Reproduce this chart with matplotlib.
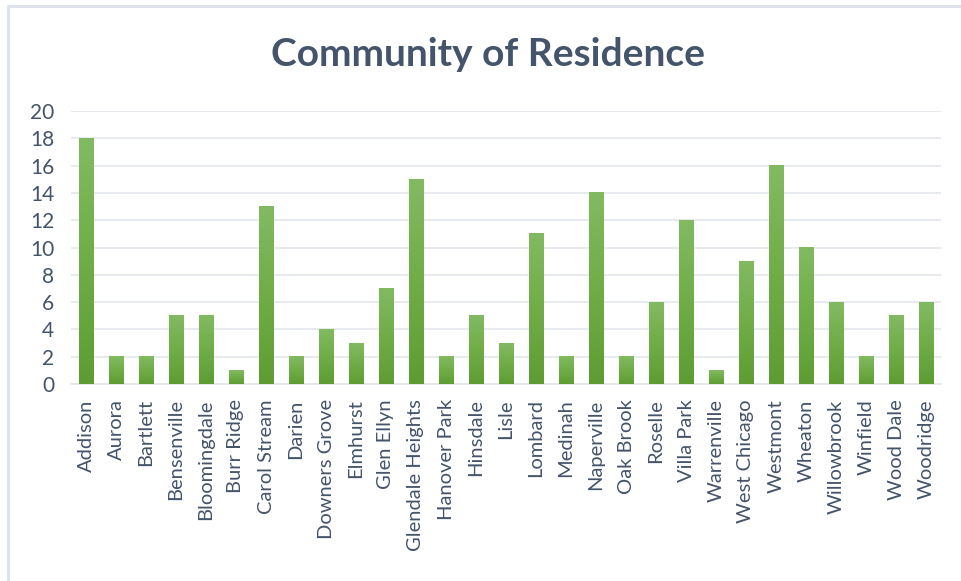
import numpy as np
import matplotlib
matplotlib.use("Agg")
import matplotlib.pyplot as plt
from matplotlib.colors import LinearSegmentedColormap
from matplotlib.patches import Rectangle

# ---
# Data

communities = [
    "Addison", "Aurora", "Bartlett", "Bensenville", "Bloomingdale", "Burr Ridge",
    "Carol Stream", "Darien", "Downers Grove", "Elmhurst", "Glen Ellyn",
    "Glendale Heights", "Hanover Park", "Hinsdale", "Lisle", "Lombard", "Medinah",
    "Naperville", "Oak Brook", "Roselle", "Villa Park", "Warrenville",
    "West Chicago", "Westmont", "Wheaton", "Willowbrook", "Winfield",
    "Wood Dale", "Woodridge",
]
counts = [18, 2, 2, 5, 5, 1, 13, 2, 4, 3, 7, 15, 2, 5, 3, 11, 2, 14, 2, 6,
          12, 1, 9, 16, 10, 6, 2, 5, 6]
y_ticks = list(range(0, 21, 2))

# ---

plt.rcParams["font.family"] = ["Lato", "DejaVu Sans"]
TEXT = "#44546A"
GRID = "#E3E6EC"

fig = plt.figure(figsize=(9.61, 5.81), dpi=100)
ax = fig.add_axes([71 / 961, 1 - 384 / 581, (941 - 71) / 961, (384 - 111) / 581])

# light frame around the chart area (only top/left visible in the source)
fig.patches.append(Rectangle((8 / 961, -0.01), 1.0, 1 - 6 / 581 + 0.01,
                             transform=fig.transFigure, fill=False,
                             edgecolor="#DDE1EA", linewidth=2.0))

green = LinearSegmentedColormap.from_list("g", ["#5E9C33", "#70AD47", "#82BA62"])
grad = np.linspace(0, 1, 256).reshape(-1, 1)

x = np.arange(len(communities))
width = 0.47
bars = ax.bar(x, counts, width=width, color="none", edgecolor="none", zorder=3)
for b in bars:
    x0, h = b.get_x(), b.get_height()
    ax.imshow(grad, extent=(x0, x0 + b.get_width(), 0, h), origin="lower",
              cmap=green, aspect="auto", zorder=3, interpolation="bicubic")

ax.set_xlim(-0.5, len(communities) - 0.5)
ax.set_ylim(0, 20)
ax.set_yticks(y_ticks)
ax.set_xticks(x)
ax.set_xticklabels(communities, rotation=90, fontsize=14.5, color=TEXT)
ax.tick_params(axis="y", labelsize=15, colors=TEXT, length=0, pad=12)
ax.tick_params(axis="x", length=0, pad=11)
ax.grid(axis="y", color=GRID, linewidth=1.2, zorder=0)
ax.set_axisbelow(True)
for side in ["top", "right", "left"]:
    ax.spines[side].set_visible(False)
ax.spines["bottom"].set_color(GRID)
ax.spines["bottom"].set_linewidth(1.2)

fig.text(488 / 961, 1 - 55 / 581, "Community of Residence", ha="center", va="center",
         fontsize=28, fontweight="bold", color=TEXT)

fig.savefig("out.png", dpi=100)
